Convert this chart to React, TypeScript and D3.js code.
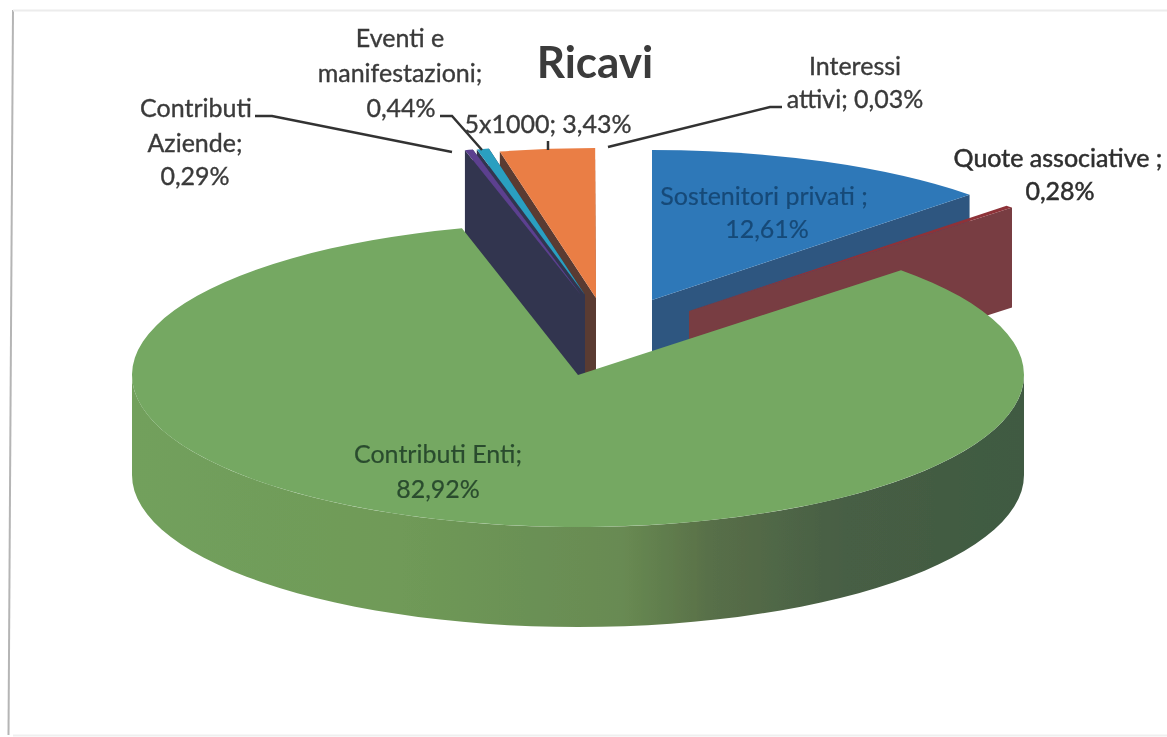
import React from "react";
import * as d3 from "d3";

const W = 1167;
const H = 737;

const categories = ["Sostenitori privati", "Quote associative", "Contributi Enti", "Contributi Aziende", "Eventi e manifestazioni", "5x1000", "Interessi attivi"];
const values = [12.61, 0.28, 82.92, 0.29, 0.44, 3.43, 0.03];
const topColors = ["#2f78b8", "#8e3238", "#74a862", "#5b3f8f", "#2b9fc0", "#ea7e45", "#ffffff"];
const wallColors = ["#2f5680", "#783c42", "#4a7045", "#33364f", "#33364f", "#5a3a30", "#ffffff"];
// Centre of each exploded slice on the page
const centreX = [652, 689, 578, 581, 585, 596, 624];
const centreY = [300, 311, 375, 295, 295, 298, 300];
// Draw order: back to front
const paintOrder = [6, 5, 4, 3, 0, 1, 2];

const RX = 446;
const RY = 150;
const DEPTH = 100;
const GREEN_RY = 152;

const pieAngles = d3.pie<number>().sort(null).startAngle(0).endAngle(2 * Math.PI)(values);
const arcGen = d3.arc<any>().innerRadius(0).outerRadius(RX);
const lineGen = d3.line<[number, number]>();

type Lbl = { lines: string[]; xs: number[]; ys: number[]; size: number; color: string; halo: number };
const labels: Lbl[] = [
  { lines: ["Eventi e", "manifestazioni;", "0,44%"], xs: [400, 400, 401], ys: [47, 82, 117], size: 25, color: "#3a3a3a", halo: 0.35 },
  { lines: ["Contributi", "Aziende;", "0,29%"], xs: [196, 195, 195], ys: [117, 152, 185], size: 25, color: "#3a3a3a", halo: 0.35 },
  { lines: ["5x1000; 3,43%"], xs: [548], ys: [133], size: 25, color: "#3a3a3a", halo: 0.35 },
  { lines: ["Interessi", "attivi; 0,03%"], xs: [855, 855], ys: [75, 108], size: 25, color: "#3a3a3a", halo: 0.35 },
  { lines: ["Quote associative ;", "0,28%"], xs: [1058, 1060], ys: [167, 200], size: 25, color: "#2e2e2e", halo: 0.5 },
  { lines: ["Sostenitori privati ;", "12,61%"], xs: [764, 767], ys: [205, 238], size: 25, color: "#174a78", halo: 0.2 },
  { lines: ["Contributi Enti;", "82,92%"], xs: [438, 438], ys: [463, 498], size: 25, color: "#2a4c2e", halo: 0.2 },
];

const leaders: [number, number][][] = [
  [[255, 116], [272, 116], [452, 152]],
  [[440, 116], [452, 116], [482, 150]],
  [[548, 141], [548, 150]],
  [[782, 107], [770, 107], [608, 147]],
];

function rimPoint(i: number, angle: number, ry: number): [number, number] {
  return [centreX[i] + RX * Math.sin(angle), centreY[i] - ry * Math.cos(angle)];
}

function wall(i: number, angle: number, ry: number) {
  const apex: [number, number] = [centreX[i], centreY[i]];
  const rim = rimPoint(i, angle, ry);
  return lineGen([apex, rim, [rim[0], rim[1] + DEPTH], [apex[0], apex[1] + DEPTH]]) + "Z";
}

function rim(i: number, ry: number) {
  const front = d3.range(0, 181, 3).map((d) => ((90 + d) * Math.PI) / 180);
  const upper = front.map((a) => rimPoint(i, a, ry));
  const lower = front.map((a) => rimPoint(i, a, ry)).map(([x, y]) => [x, y + DEPTH] as [number, number]).reverse();
  return lineGen([...upper, ...lower]) + "Z";
}

export default function App() {
  return (
    <svg width={W} height={H} style={{ position: "absolute", left: 0, top: 0, background: "#fff", fontFamily: "Lato, 'Open Sans', sans-serif" }}>
      <defs>
        <linearGradient id="rimGrad" x1="0" x2="1" y1="0" y2="0">
          <stop offset="0" stopColor="#72a05c" />
          <stop offset="0.3" stopColor="#6f9a58" />
          <stop offset="0.55" stopColor="#688a52" />
          <stop offset="0.65" stopColor="#586f48" />
          <stop offset="0.8" stopColor="#475e44" />
          <stop offset="1" stopColor="#3f5a42" />
        </linearGradient>
        <filter id="soft"><feGaussianBlur stdDeviation="0.6" /></filter>
      </defs>
      <g filter="url(#soft)">
        <path d="M13,10 L8.5,735" fill="none" stroke="#b5b5b5" strokeWidth={2} />
        <path d="M13,10.5 L1167,10.5" fill="none" stroke="#ececec" strokeWidth={2} />
        <path d="M13,735.5 L1167,735.5" fill="none" stroke="#efefef" strokeWidth={2} />
        {paintOrder.map((i) => {
          const s = pieAngles[i];
          const ry = i === 2 ? GREEN_RY : RY;
          return (
            <g key={categories[i]}>
              {i === 2 ? <path d={rim(i, ry)} fill="url(#rimGrad)" /> : null}
              {i !== 2 && <path d={wall(i, s.endAngle, ry)} fill={wallColors[i]} />}
              {i >= 3 && <path d={wall(i, s.startAngle, ry)} fill={wallColors[i]} />}
              <path
                d={arcGen(s) as string}
                fill={topColors[i]}
                transform={`translate(${centreX[i]},${centreY[i]}) scale(1,${ry / RX})`}
              />
            </g>
          );
        })}
        {leaders.map((l, i) => (
          <path key={i} d={lineGen(l) as string} fill="none" stroke="#333" strokeWidth={2.5} />
        ))}
        {labels.map((l) =>
          l.lines.map((t, j) => (
            <text key={t} x={l.xs[j]} y={l.ys[j]} textAnchor="middle" fontSize={l.size} fill={l.color} stroke={l.color} strokeWidth={l.halo}>
              {t}
            </text>
          ))
        )}
        <text x={595} y={78} textAnchor="middle" fontSize={44} fontWeight={700} fill="#3a3a3a">Ricavi</text>
      </g>
    </svg>
  );
}
